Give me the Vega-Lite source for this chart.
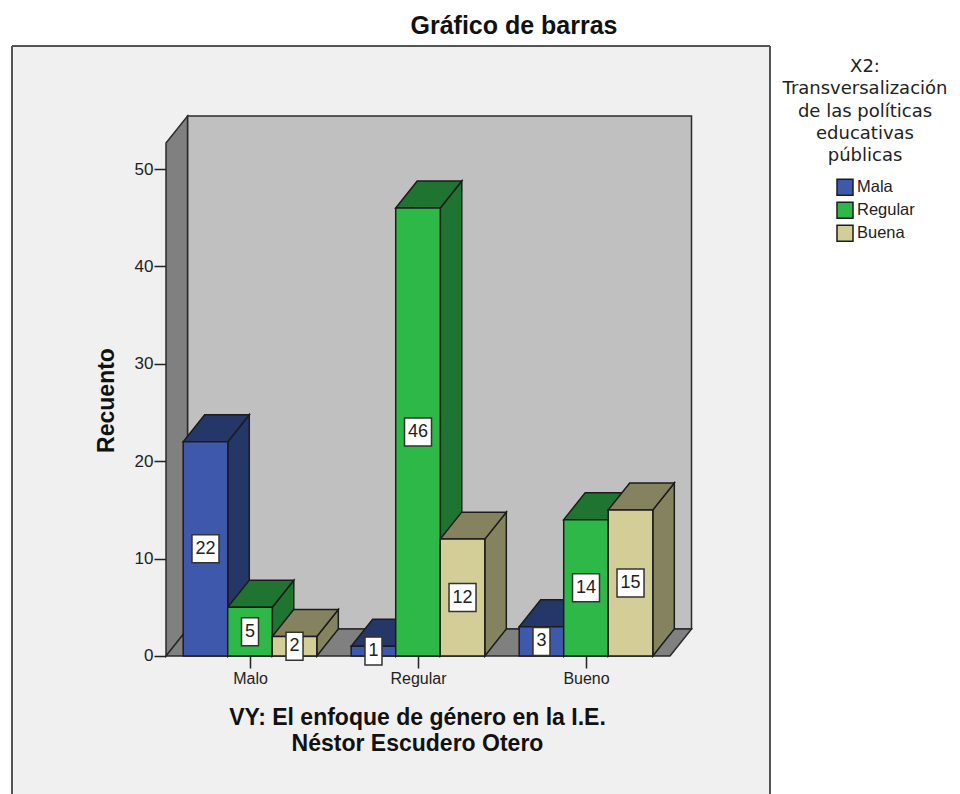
{
"$schema":"https://vega.github.io/schema/vega-lite/v6.json",
"autosize":"none",
"padding":{"left":12,"top":46,"right":190,"bottom":0},
"width":758,"height":748,
"background":"white",
"view":{"fill":"#f0f0f0","stroke":null},
"config":{"font":"Liberation Sans"},
"title":{"text":"Gráfico de barras","font":"Liberation Sans","fontSize":25,"fontWeight":"bold","color":"#111","anchor":"middle","frame":"group","dx":123,"offset":6},
"datasets":{
"bars":[
{"cat":"Malo","grp":"Mala","value":22},
{"cat":"Malo","grp":"Regular","value":5},
{"cat":"Malo","grp":"Buena","value":2},
{"cat":"Regular","grp":"Mala","value":1},
{"cat":"Regular","grp":"Regular","value":46},
{"cat":"Regular","grp":"Buena","value":12},
{"cat":"Bueno","grp":"Mala","value":3},
{"cat":"Bueno","grp":"Regular","value":14},
{"cat":"Bueno","grp":"Buena","value":15}
],
"depth":[{"t":0},{"t":1}],
"one":[{"t":0}]
},
"data":{"name":"bars"},
"encoding":{
"x":{"field":"a","type":"quantitative","scale":{"domain":[-1.4167,3.0952],"nice":false,"zero":false},
"axis":{"values":[0,1,2],"labelExpr":"['Malo','Regular','Bueno'][datum.value]","orient":"bottom","offset":-138,"domain":false,"grid":false,"tickSize":12,"tickColor":"#222","tickWidth":1.5,"labelFontSize":16,"labelColor":"#222","labelPadding":2,"labelFont":"Liberation Sans","labelFlush":false,"labelOverlap":false,"labelDx":-3,
"title":["VY: El enfoque de género en la I.E.","Néstor Escudero Otero"],"titleFont":"Liberation Sans","titleFontSize":23,"titleFontWeight":"bold","titleColor":"#111","titleX":405,"titleY":68,"titleLineHeight":26,"titleAlign":"center","titleBaseline":"alphabetic"}},
"y":{"field":"b","type":"quantitative","scale":{"domain":[-14.17,62.63],"nice":false,"zero":false},
"axis":{"values":[0,10,20,30,40,50],"orient":"left","offset":-154,"domain":false,"grid":false,"tickSize":12,"tickColor":"#222","tickWidth":1.5,"labelFontSize":17,"labelColor":"#222","labelPadding":1,"labelFont":"Liberation Sans",
"title":"Recuento","titleFont":"Liberation Sans","titleFontSize":23,"titleFontWeight":"bold","titleColor":"#111","titleX":-53,"titleY":354,"titleAngle":-90,"titleAlign":"center","titleBaseline":"alphabetic"}}
},
"layer":[
{"transform":[
 {"calculate":"indexof(['Malo','Regular','Bueno'],datum.cat)+(indexof(['Mala','Regular','Buena'],datum.grp)-1)*0.265","as":"cx"},
 {"calculate":"datum.cx-0.1327","as":"a"},
 {"calculate":"datum.cx+0.1327","as":"a2"},
 {"calculate":"datum.value","as":"b"}],
 "mark":{"type":"rect"},
 "encoding":{"x2":{"field":"a2"},"y2":{"datum":0},
 "fill":{"field":"grp","type":"nominal","scale":{"domain":["Mala","Regular","Buena"],"range":["#3e58ac","#2eb848","#d3ce97"]},
 "legend":{"orient":"none","legendX":771,"legendY":12,"title":["X2:","Transversalización","de las políticas","educativas","públicas"],"titleFont":"DejaVu Sans","titleFontSize":18,"titleFontWeight":"normal","titleColor":"#222","titleLineHeight":22.3,"titleLimit":300,"titleAlign":"center","titleAnchor":"middle","titlePadding":13,"symbolType":"square","symbolSize":256,"symbolStrokeColor":"#333","symbolStrokeWidth":1.5,"symbolOffset":21,"labelFontSize":16.5,"labelColor":"#222","labelOffset":3,"rowPadding":1}}}},
{"data":{"name":"one"},
 "transform":[{"calculate":"-0.372","as":"a"},{"calculate":"2.77","as":"b"}],
 "mark":{"type":"rect","fill":"#c0c0c0","stroke":"#2a2a2a","strokeWidth":1.5},
 "encoding":{"x2":{"datum":2.628},"y2":{"datum":55.44}}},
{"data":{"name":"depth"},
 "transform":[{"calculate":"-0.5+datum.t*0.128","as":"a"},{"calculate":"52.67+datum.t*2.77","as":"b"},{"calculate":"datum.t*2.77","as":"b2"}],
 "mark":{"type":"area","fill":"#808080","stroke":"#2a2a2a","strokeWidth":1.5},
 "encoding":{"y2":{"field":"b2"}}},
{"data":{"name":"depth"},
 "transform":[{"calculate":"-0.5+datum.t*0.128","as":"a"},{"calculate":"2.5+datum.t*0.128","as":"a2"},{"calculate":"datum.t*2.77","as":"b"}],
 "mark":{"type":"area","orient":"horizontal","fill":"#808080","stroke":"#2a2a2a","strokeWidth":1.5},
 "encoding":{"x2":{"field":"a2"}}},
{"transform":[
 {"calculate":"indexof(['Malo','Regular','Bueno'],datum.cat)+(indexof(['Mala','Regular','Buena'],datum.grp)-1)*0.265","as":"cx"},
 {"calculate":"[0,1]","as":"t"},{"flatten":["t"]},
 {"calculate":"datum.cx+0.1327+datum.t*0.128","as":"a"},
 {"calculate":"datum.value+datum.t*2.77","as":"b"},
 {"calculate":"datum.t*2.77","as":"b2"}],
 "mark":{"type":"area","stroke":"#1c1c1c","strokeWidth":1.5},
 "encoding":{"y2":{"field":"b2"},"detail":[{"field":"cat"},{"field":"grp"}],
 "color":{"field":"grp","type":"nominal","scale":{"domain":["Mala","Regular","Buena"],"range":["#253668","#1e7430","#85825f"]}}}},
{"transform":[
 {"calculate":"indexof(['Malo','Regular','Bueno'],datum.cat)+(indexof(['Mala','Regular','Buena'],datum.grp)-1)*0.265","as":"cx"},
 {"calculate":"[0,1]","as":"t"},{"flatten":["t"]},
 {"calculate":"datum.cx-0.1327+datum.t*0.128","as":"a"},
 {"calculate":"datum.cx+0.1327+datum.t*0.128","as":"a2"},
 {"calculate":"datum.value+datum.t*2.77","as":"b"}],
 "mark":{"type":"area","orient":"horizontal","stroke":"#1c1c1c","strokeWidth":1.5},
 "encoding":{"x2":{"field":"a2"},"detail":[{"field":"cat"},{"field":"grp"}],
 "color":{"field":"grp","type":"nominal","scale":{"domain":["Mala","Regular","Buena"],"range":["#253668","#1e7430","#85825f"]}}}},
{"transform":[
 {"calculate":"indexof(['Malo','Regular','Bueno'],datum.cat)+(indexof(['Mala','Regular','Buena'],datum.grp)-1)*0.265","as":"cx"},
 {"calculate":"datum.cx-0.1327","as":"a"},
 {"calculate":"datum.cx+0.1327","as":"a2"},
 {"calculate":"datum.value","as":"b"}],
 "mark":{"type":"rect","stroke":"#1c1c1c","strokeWidth":1.5},
 "encoding":{"x2":{"field":"a2"},"y2":{"datum":0},
 "fill":{"field":"grp","type":"nominal","scale":{"domain":["Mala","Regular","Buena"],"range":["#3e58ac","#2eb848","#d3ce97"]}}}},
{"transform":[
 {"filter":"datum.value>=10"},
 {"calculate":"indexof(['Malo','Regular','Bueno'],datum.cat)+(indexof(['Mala','Regular','Buena'],datum.grp)-1)*0.265","as":"a"},
 {"calculate":"datum.value/2","as":"b"}],
 "mark":{"type":"rect","width":27,"height":28,"fill":"white","stroke":"#333","strokeWidth":1.5}},
{"transform":[
 {"filter":"datum.value<10"},
 {"calculate":"indexof(['Malo','Regular','Bueno'],datum.cat)+(indexof(['Mala','Regular','Buena'],datum.grp)-1)*0.265","as":"a"},
 {"calculate":"datum.value/2","as":"b"}],
 "mark":{"type":"rect","width":17,"height":28,"fill":"white","stroke":"#333","strokeWidth":1.5}},
{"transform":[
 {"calculate":"indexof(['Malo','Regular','Bueno'],datum.cat)+(indexof(['Mala','Regular','Buena'],datum.grp)-1)*0.265","as":"a"},
 {"calculate":"datum.value/2","as":"b"}],
 "mark":{"type":"text","font":"Liberation Sans","fontSize":18,"color":"#222","align":"center","baseline":"middle"},
 "encoding":{"text":{"field":"value","type":"quantitative"}}},
{"data":{"name":"one"},"transform":[{"calculate":"-1.4167","as":"a"},{"calculate":"62.63","as":"b"}],"mark":{"type":"rule","stroke":"#555","strokeWidth":2},"encoding":{"y2":{"datum":-14.17}}},
{"data":{"name":"one"},"transform":[{"calculate":"3.0952","as":"a"},{"calculate":"62.63","as":"b"}],"mark":{"type":"rule","stroke":"#555","strokeWidth":2},"encoding":{"y2":{"datum":-14.17}}},
{"data":{"name":"one"},"transform":[{"calculate":"-1.4167","as":"a"},{"calculate":"62.63","as":"b"}],"mark":{"type":"rule","stroke":"#555","strokeWidth":2},"encoding":{"x2":{"datum":3.0952}}}
]
}
